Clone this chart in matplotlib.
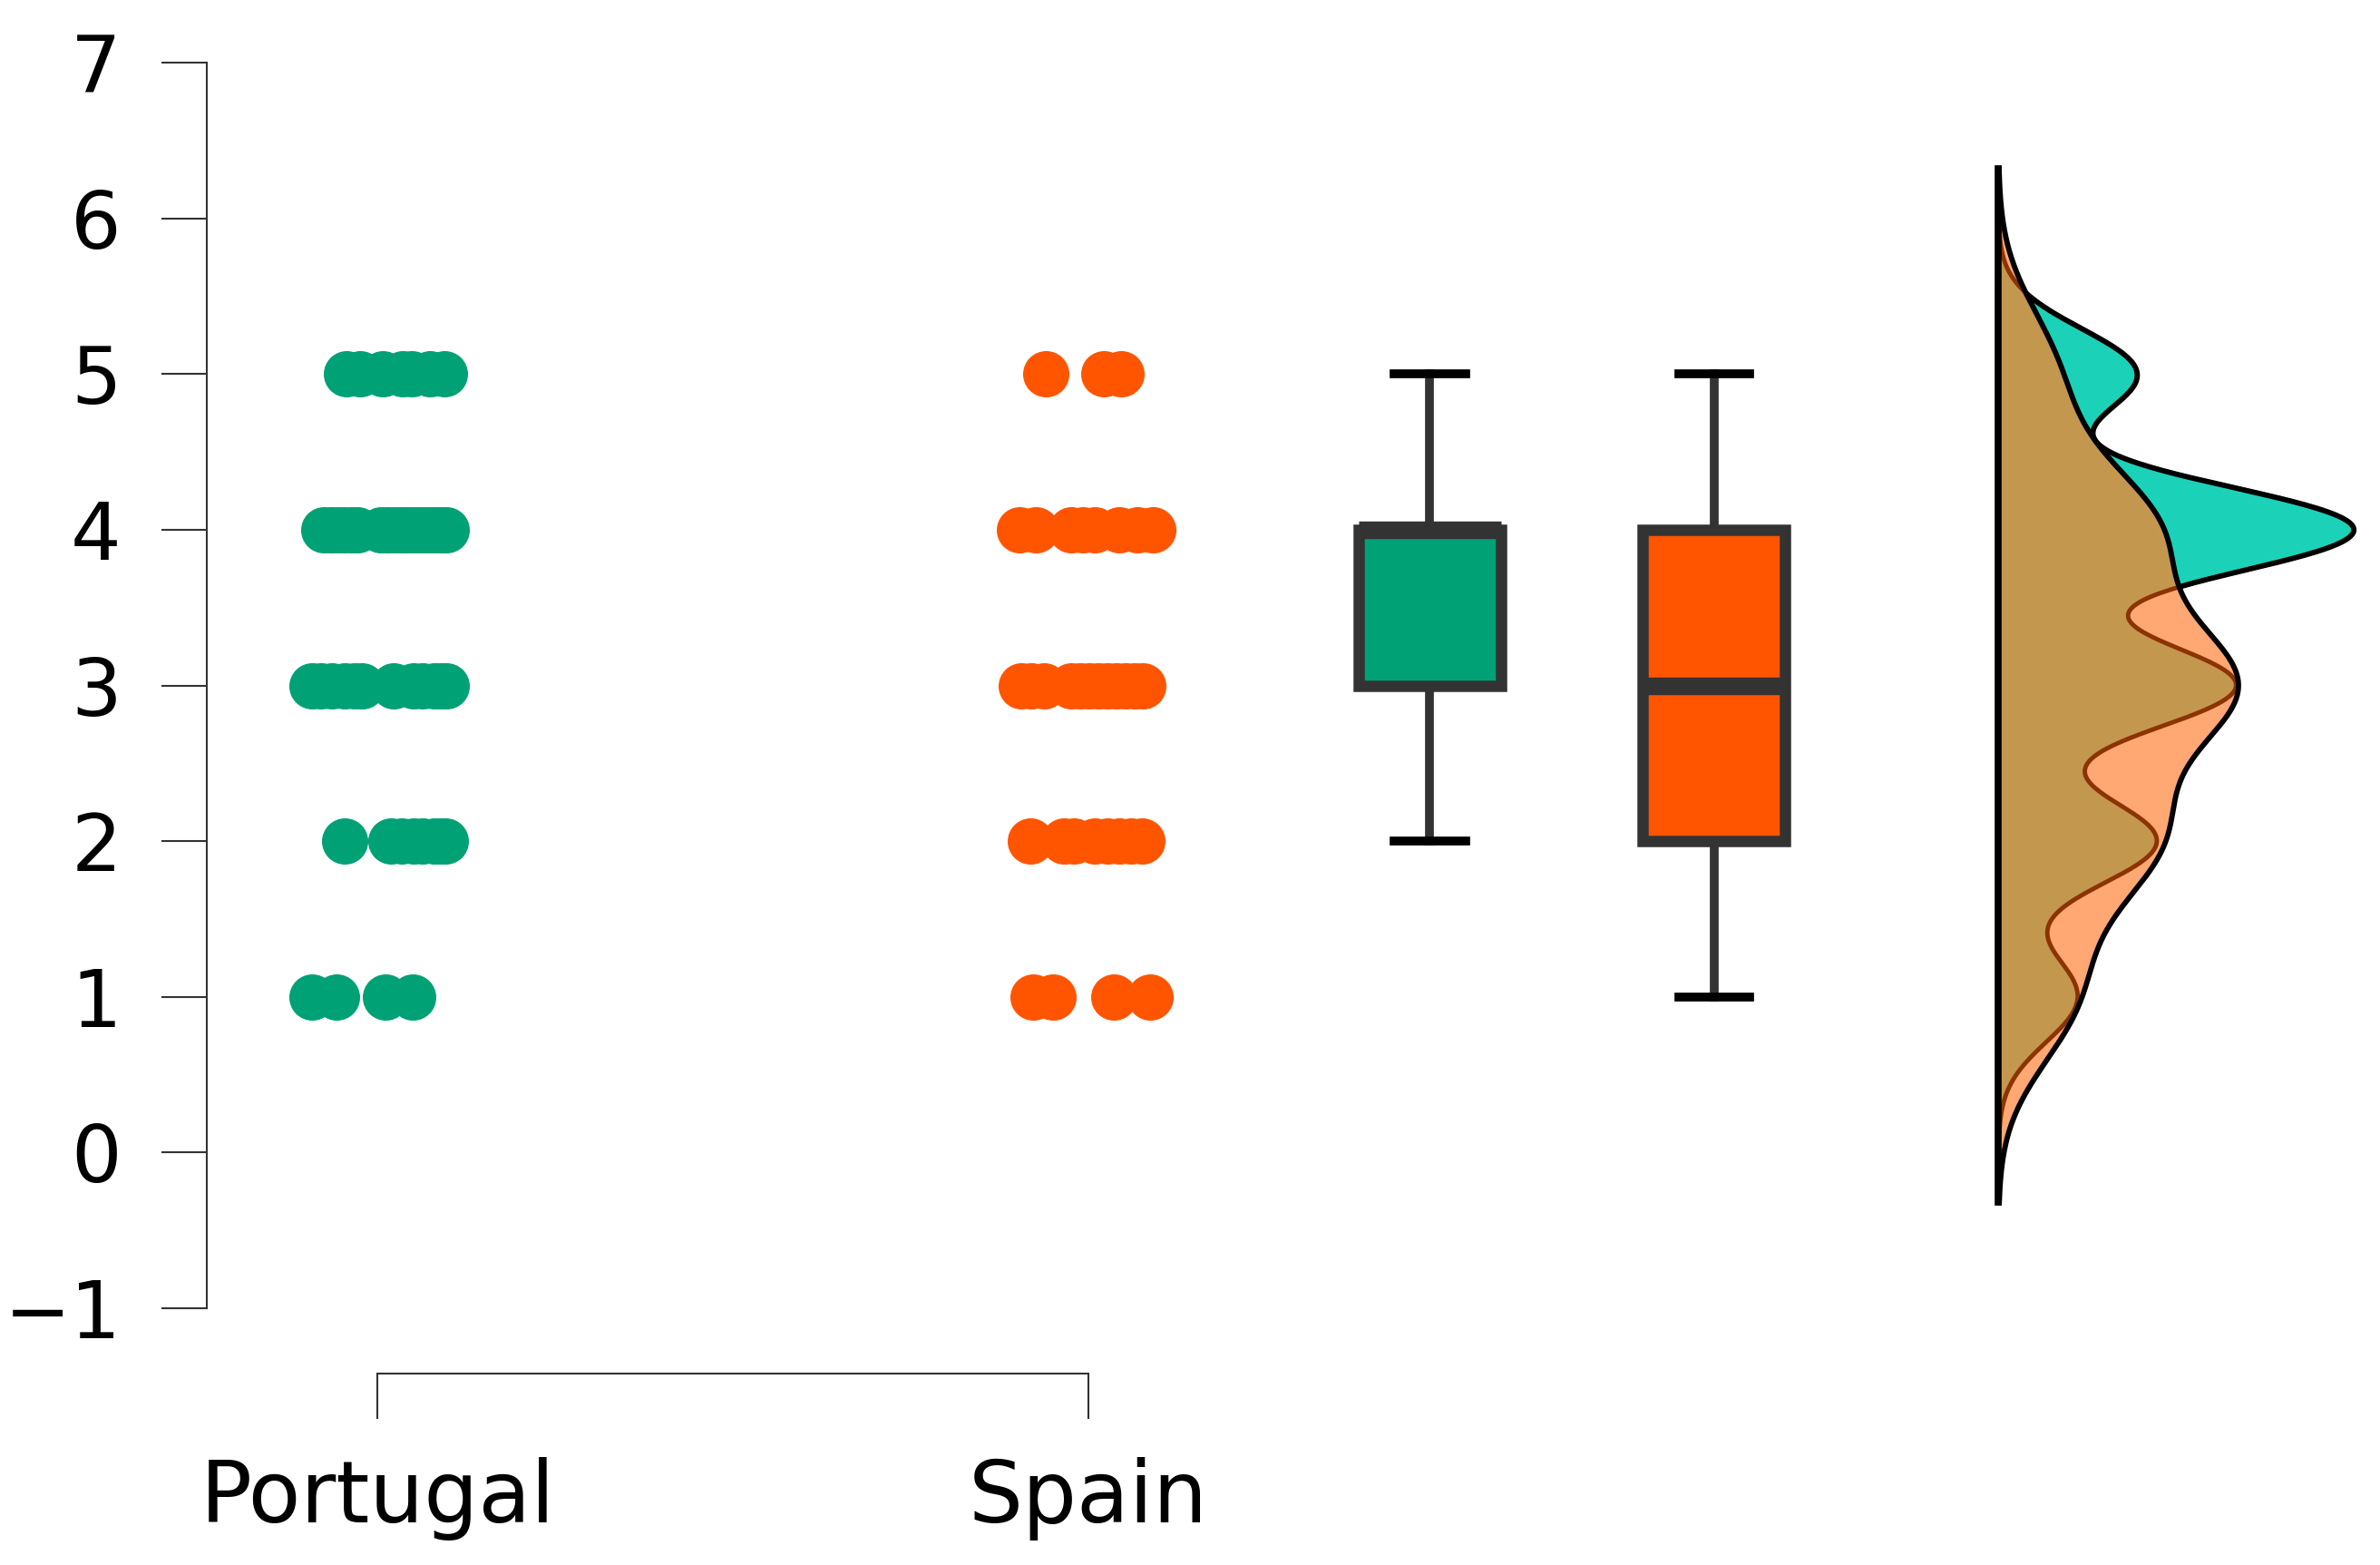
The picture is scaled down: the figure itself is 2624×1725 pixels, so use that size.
import numpy as np
import matplotlib.pyplot as plt

countries = ['Portugal', 'Spain']
positions = [1, 2]

# horizontal jitter of each dot, grouped by score
portugal_jitter = {
    1: [-0.092, -0.058, 0.011, 0.049],
    2: [-0.047, 0.019, 0.034, 0.051, 0.063, 0.080, 0.089, 0.095],
    3: [-0.092, -0.079, -0.064, -0.047, -0.032, -0.022, 0.023, 0.051,
        0.063, 0.080, 0.089, 0.097],
    4: [-0.076, -0.065, -0.057, -0.048, -0.037, -0.029, 0.005, 0.014,
        0.022, 0.031, 0.039, 0.048, 0.056, 0.065, 0.073, 0.082, 0.090, 0.097],
    5: [-0.044, -0.025, 0.007, 0.035, 0.048, 0.073, 0.094],
}
spain_jitter = {
    1: [-0.078, -0.050, 0.035, 0.086],
    2: [-0.082, -0.035, -0.020, 0.009, 0.026, 0.043, 0.060, 0.075],
    3: [-0.095, -0.080, -0.063, -0.025, -0.012, 0.001, 0.014, 0.026,
        0.039, 0.052, 0.065, 0.077],
    4: [-0.097, -0.074, -0.025, -0.008, 0.009, 0.043, 0.069, 0.090],
    5: [-0.060, 0.022, 0.046],
}

# kde bandwidths used for the half violins
portugal_bw = 0.29
spain_bw = 0.44

green = '#00A175'
orange = '#FF5500'
teal = '#1BD2B8'
light_orange = '#FFA874'
brown = '#C4974F'
dark_line = '#8C3300'


def expand(jitter):
    scores, offsets = [], []
    for score, offs in jitter.items():
        scores += [score] * len(offs)
        offsets += offs
    return np.array(scores, float), np.array(offsets)


def kde(values, grid, bw):
    z = (grid[:, None] - values[None, :]) / bw
    return np.exp(-0.5 * z ** 2).sum(axis=1) / (len(values) * bw * np.sqrt(2 * np.pi))


por_y, por_dx = expand(portugal_jitter)
spa_y, spa_dx = expand(spain_jitter)

fig = plt.figure(figsize=(26.24, 17.25), dpi=100)
ax = fig.add_axes([0.087, 0.164, 0.908, 0.796])

# raw data strips
ax.scatter(positions[0] + por_dx, por_y, s=1350, color=green, linewidths=0, zorder=3)
ax.scatter(positions[1] + spa_dx, spa_y, s=1350, color=orange, linewidths=0, zorder=3)

# box plots
bp = ax.boxplot([por_y, spa_y], positions=[2.48, 2.88], widths=0.2,
                patch_artist=True, showfliers=False, capwidths=0.1,
                manage_ticks=False,
                boxprops=dict(linewidth=9, edgecolor='#333333'),
                whiskerprops=dict(color='#333333', linewidth=7),
                capprops=dict(color='black', linewidth=7),
                medianprops=dict(color='#333333', linewidth=14, solid_capstyle='butt'))
for patch, c in zip(bp['boxes'], [green, orange]):
    patch.set_facecolor(c)
    patch.set_joinstyle('miter')

# half densities
base = 3.28
half_width = 0.5
bw_max = max(portugal_bw, spain_bw)
all_y = np.concatenate([por_y, spa_y])
grid = np.linspace(all_y.min() - 3 * bw_max, all_y.max() + 3 * bw_max, 600)
p = kde(por_y, grid, portugal_bw)
s = kde(spa_y, grid, spain_bw)
k = half_width / max(p.max(), s.max())
p, s = p * k, s * k

ax.fill_betweenx(grid, base, base + p, color=teal, linewidth=0, zorder=2)
ax.fill_betweenx(grid, base, base + s, color=light_orange, linewidth=0, zorder=2)
ax.fill_betweenx(grid, base, base + np.minimum(p, s), color=brown, linewidth=0, zorder=2)
ax.plot(base + p, grid, color=dark_line, lw=3.5, zorder=4)
ax.plot(base + np.where(p >= s, p, np.nan), grid, color='black', lw=4.2, zorder=4)
ax.plot(base + s, grid, color='black', lw=4.2, zorder=5)
ax.plot([base, base], [grid[0], grid[-1]], color='black', lw=5.5, zorder=6)

# axes styling
ax.set_xlim(0.760, 3.80)
ax.set_ylim(-1, 7)
ax.set_yticks(range(-1, 8))
ax.set_xticks(positions)
ax.set_xticklabels(countries)
ax.tick_params(axis='y', labelsize=63, length=36, width=1.5, pad=32, color='#333333')
ax.tick_params(axis='x', labelsize=68, length=36, width=1.5, pad=30, color='#333333')
for side in ['top', 'right']:
    ax.spines[side].set_visible(False)
ax.spines['left'].set_bounds(-1, 7)
ax.spines['bottom'].set_bounds(1, 2)
ax.spines['bottom'].set_position(('outward', 52))
for side in ['left', 'bottom']:
    ax.spines[side].set_linewidth(1.5)
    ax.spines[side].set_color('#333333')

fig.savefig('out.png', dpi=100)
